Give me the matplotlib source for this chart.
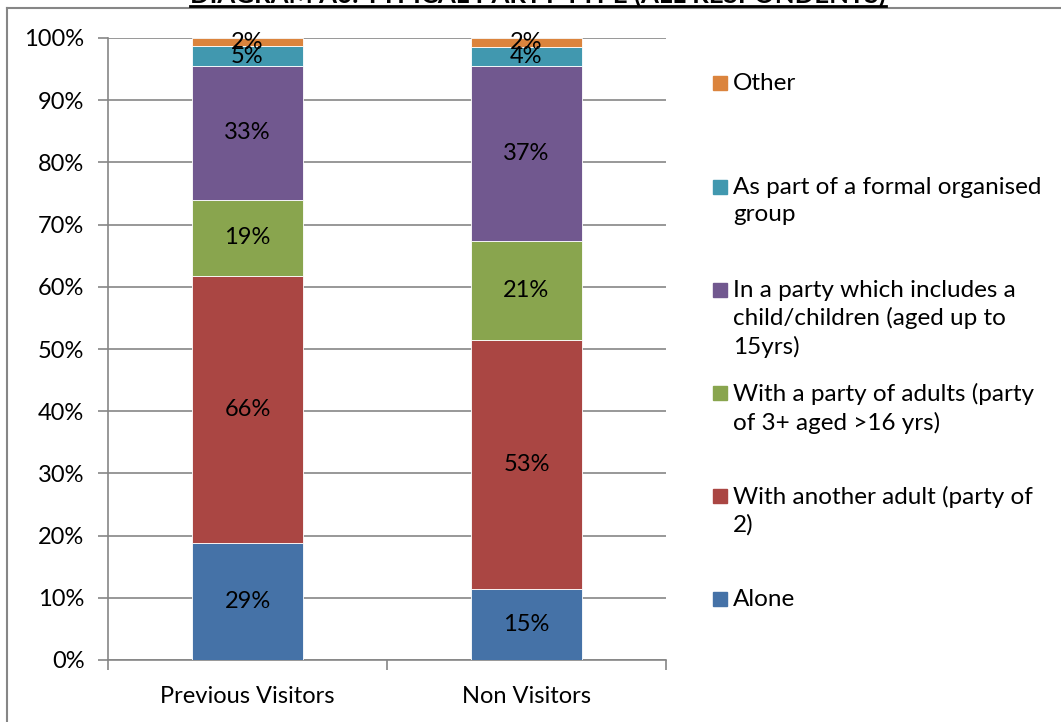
import numpy as np
import matplotlib.pyplot as plt
from matplotlib.patches import Rectangle
from matplotlib.lines import Line2D

plt.rcParams["font.family"] = ["Lato", "DejaVu Sans"]

# Respondent counts (as labelled) per party type, bottom to top of the stack
groups = ["Previous Visitors", "Non Visitors"]
series = [
    "Alone",
    "With another adult (party of\n2)",
    "With a party of adults (party\nof 3+ aged >16 yrs)",
    "In a party which includes a\nchild/children (aged up to\n15yrs)",
    "As part of a formal organised\ngroup",
    "Other",
]
previous = [29, 66, 19, 33, 5, 2]
non_visitors = [15, 53, 21, 37, 4, 2]
colors = ["#4572A7", "#AA4643", "#89A54E", "#71588F", "#4198AF", "#DB843D"]
yticks = np.arange(0, 101, 10)

W, H = 1061, 722
FS = 17
fig = plt.figure(figsize=(W / 100, H / 100), dpi=100)
ax = fig.add_axes([108 / W, 1 - 660 / H, (666 - 108) / W, (660 - 38) / H])

values = np.array([previous, non_visitors], dtype=float)
shares = values / values.sum(axis=1, keepdims=True) * 100
x = np.arange(len(groups))
bottom = np.zeros(len(groups))
for i, name in enumerate(series):
    bars = ax.bar(x, shares[:, i], 0.4, bottom=bottom, color=colors[i],
                  edgecolor="white", linewidth=0.6, zorder=3)
    for j, b in enumerate(bars):
        ax.text(b.get_x() + b.get_width() / 2, bottom[j] + shares[j, i] / 2,
                f"{int(values[j, i])}%", ha="center", va="center",
                fontsize=FS, color="black", zorder=4)
    bottom += shares[:, i]

ax.set_xlim(-0.5, 1.5)
ax.set_ylim(0, 100)
ax.set_yticks(yticks)
ax.set_yticklabels([f"{v}%" for v in yticks], fontsize=FS)
ax.yaxis.grid(True, color="#868686", linewidth=1.2, zorder=0)
ax.set_axisbelow(True)

ax.set_xticks([-0.5, 0.5, 1.5])
ax.set_xticklabels([])
ax.set_xticks(x, minor=True)
ax.set_xticklabels(groups, minor=True, fontsize=FS)
ax.tick_params(axis="x", which="minor", length=0, pad=19)
ax.tick_params(axis="x", which="major", length=7, color="#868686", width=1.2)
ax.tick_params(axis="y", length=7, color="#868686", width=1.2, pad=10)
for s in ["top", "right"]:
    ax.spines[s].set_visible(False)
for s in ["left", "bottom"]:
    ax.spines[s].set_color("#868686")
    ax.spines[s].set_linewidth(1.2)

# legend, top entry first, handle level with the first text line
legend_y = [83, 187, 290, 393, 496, 599]
for k, name in enumerate(reversed(series)):
    c = colors[len(series) - 1 - k]
    y = legend_y[k]
    fig.patches.append(Rectangle((713 / W, 1 - (y + 7) / H), 14 / W, 14 / H,
                                 transform=fig.transFigure, color=c))
    fig.text(733 / W, 1 - (y - 10) / H, name, fontsize=17.5, va="top",
             ha="left", linespacing=1.35)

# chart area border
fig.add_artist(Line2D([7 / W, 7 / W], [0, 1 - 8 / H], color="#868686", lw=1.5))
fig.add_artist(Line2D([7 / W, 1], [1 - 8 / H, 1 - 8 / H], color="#868686", lw=1.5))

title = fig.text(538 / W, 1 - 3 / H, "DIAGRAM A6: TYPICAL PARTY TYPE (ALL RESPONDENTS)",
                 fontsize=18.5, fontweight="bold", ha="center", va="baseline")
fig.canvas.draw()
bb = title.get_window_extent()
fig.add_artist(Line2D([bb.x0 / W, bb.x1 / W], [1 - 6 / H, 1 - 6 / H],
                      color="black", lw=2))

fig.savefig("out.png", dpi=100)
